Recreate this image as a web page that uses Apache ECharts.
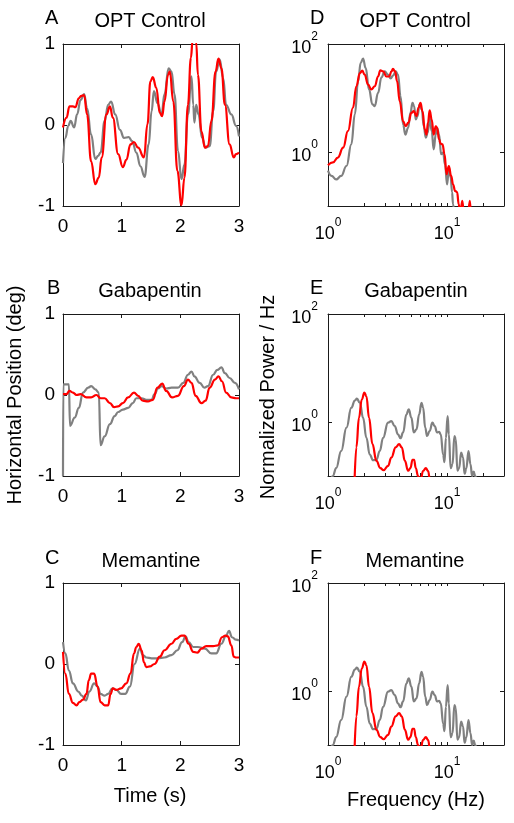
<!DOCTYPE html>
<html>
<head>
<meta charset="utf-8">
<script src="https://cdn.jsdelivr.net/npm/echarts@6/dist/echarts.min.js"></script>
<style>html,body{margin:0;padding:0;background:#fff;}#c{width:514px;height:823px;}</style>
</head>
<body>
<div id="c"></div>
<script>
// ---------- Data ----------
const panelLetters = ['A', 'B', 'C', 'D', 'E', 'F'];
const panelTitles = ['OPT Control', 'Gabapentin', 'Memantine', 'OPT Control', 'Gabapentin', 'Memantine'];
const timeTicks = [0, 1, 2, 3];
const posTicks = [-1, 0, 1];
const freqLabelTicks = [1, 10];
const freqMinorTicks = [1, 2, 3, 4, 5, 6, 7, 8, 9, 10, 20];
const powerTicks = [1, 100];

// Panel A: OPT Control, horizontal position (deg) vs time (s)
const optRed = [[0,-0.03],[0.06,0.09],[0.11,0.23],[0.17,0.23],[0.21,0.22],[0.27,0.33],[0.31,0.36],[0.36,0.37],[0.41,0.13],[0.48,-0.45],[0.55,-0.73],[0.61,-0.65],[0.66,-0.40],[0.74,0.13],[0.80,0.23],[0.85,0.09],[0.94,-0.36],[1.02,-0.52],[1.08,-0.43],[1.15,-0.24],[1.21,-0.21],[1.28,-0.28],[1.38,-0.40],[1.44,0.01],[1.49,0.54],[1.53,0.59],[1.59,0.46],[1.65,0.15],[1.69,0.11],[1.73,0.29],[1.79,0.62],[1.82,0.66],[1.88,0.29],[1.95,-0.57],[2.02,-0.99],[2.07,-0.65],[2.13,0.25],[2.18,0.83],[2.21,1.05],[2.24,1.1],[2.27,1.02],[2.30,0.62],[2.36,-0.08],[2.42,-0.28],[2.47,-0.26],[2.53,0.05],[2.60,0.66],[2.65,0.82],[2.70,0.70],[2.76,0.25],[2.84,-0.24],[2.91,-0.40],[2.95,-0.36],[3.0,-0.34]];
const optGray = [[0,-0.47],[0.04,-0.16],[0.09,-0.01],[0.13,0.05],[0.19,-0.03],[0.24,0.13],[0.30,0.31],[0.36,0.38],[0.41,0.21],[0.48,-0.12],[0.55,-0.42],[0.60,-0.38],[0.64,-0.34],[0.71,0.05],[0.77,0.25],[0.82,0.29],[0.89,0.13],[0.97,-0.06],[1.04,-0.16],[1.12,-0.15],[1.18,-0.20],[1.25,-0.34],[1.32,-0.51],[1.39,-0.64],[1.46,-0.24],[1.51,0.17],[1.55,0.42],[1.61,0.27],[1.68,0.13],[1.73,0.38],[1.80,0.70],[1.85,0.66],[1.90,0.38],[1.96,-0.32],[2.02,-0.67],[2.07,-0.49],[2.13,0.13],[2.19,0.60],[2.22,0.25],[2.24,0.03],[2.27,0.25],[2.31,0.13],[2.37,-0.16],[2.43,-0.28],[2.50,-0.26],[2.56,0.17],[2.61,0.66],[2.67,0.81],[2.73,0.58],[2.78,0.25],[2.87,0.13],[2.95,-0.01],[3.0,-0.14]];

// Panel B: Gabapentin
const gabaRed = [[0,0.01],[0.06,0.01],[0.11,0.05],[0.17,0.03],[0.23,0.0],[0.30,0.01],[0.40,-0.03],[0.48,-0.03],[0.57,0.0],[0.64,-0.04],[0.71,-0.04],[0.80,-0.10],[0.87,-0.15],[0.94,-0.14],[1.02,-0.10],[1.11,-0.03],[1.21,0.03],[1.28,-0.01],[1.36,-0.07],[1.45,-0.08],[1.53,-0.06],[1.61,0.09],[1.69,0.14],[1.76,0.05],[1.86,-0.03],[1.96,-0.01],[2.06,0.11],[2.13,0.19],[2.19,0.15],[2.26,-0.01],[2.36,-0.10],[2.43,-0.07],[2.50,0.09],[2.59,0.19],[2.65,0.23],[2.71,0.17],[2.78,0.03],[2.87,-0.03],[2.95,-0.04],[3.0,-0.04]];
const gabaGray = [[0,-1],[0.005,0.13],[0.10,0.13],[0.12,-0.38],[0.20,-0.28],[0.27,-0.16],[0.34,0.03],[0.43,0.09],[0.48,0.11],[0.55,0.07],[0.61,0.03],[0.64,-0.62],[0.71,-0.51],[0.80,-0.36],[0.88,-0.26],[0.94,-0.21],[1.02,-0.18],[1.11,-0.16],[1.19,-0.10],[1.25,-0.04],[1.34,-0.04],[1.42,-0.06],[1.51,-0.06],[1.56,0.01],[1.62,0.08],[1.68,0.11],[1.76,0.08],[1.85,0.09],[1.96,0.09],[2.05,0.15],[2.13,0.25],[2.19,0.29],[2.24,0.23],[2.33,0.15],[2.41,0.09],[2.47,0.11],[2.56,0.25],[2.63,0.31],[2.70,0.34],[2.76,0.27],[2.84,0.21],[2.93,0.15],[3.0,0.07]];

// Panel C: Memantine
const memRed = [[0,0.15],[0.04,-0.12],[0.10,-0.37],[0.17,-0.48],[0.23,-0.51],[0.28,-0.47],[0.34,-0.44],[0.40,-0.37],[0.44,-0.20],[0.48,-0.12],[0.53,-0.12],[0.59,-0.28],[0.64,-0.47],[0.71,-0.51],[0.77,-0.51],[0.81,-0.37],[0.85,-0.30],[0.91,-0.32],[0.99,-0.30],[1.08,-0.24],[1.15,-0.12],[1.21,0.13],[1.25,0.21],[1.29,0.25],[1.34,0.17],[1.38,0.02],[1.42,-0.04],[1.48,-0.03],[1.56,0.0],[1.65,0.09],[1.73,0.17],[1.85,0.25],[1.93,0.31],[2.02,0.35],[2.07,0.35],[2.14,0.25],[2.22,0.15],[2.29,0.14],[2.36,0.19],[2.44,0.22],[2.56,0.22],[2.64,0.23],[2.71,0.33],[2.77,0.35],[2.81,0.34],[2.87,0.23],[2.91,0.09],[2.95,0.08],[3.0,0.08]];
const memGray = [[0,0.27],[0.04,0.13],[0.10,-0.08],[0.17,-0.24],[0.26,-0.34],[0.32,-0.39],[0.39,-0.45],[0.45,-0.34],[0.53,-0.24],[0.59,-0.28],[0.64,-0.37],[0.71,-0.39],[0.77,-0.37],[0.84,-0.30],[0.91,-0.32],[0.99,-0.37],[1.06,-0.37],[1.14,-0.28],[1.22,0.0],[1.31,0.19],[1.36,0.11],[1.42,0.08],[1.51,0.07],[1.62,0.07],[1.73,0.08],[1.85,0.11],[1.95,0.17],[2.03,0.27],[2.09,0.34],[2.14,0.27],[2.22,0.21],[2.30,0.21],[2.42,0.19],[2.53,0.13],[2.61,0.13],[2.70,0.25],[2.78,0.35],[2.83,0.41],[2.88,0.33],[2.95,0.30],[3.0,0.29]];

// Panel D: OPT Control, normalized power / Hz vs frequency (Hz)
const optSpecRed = [[1,0.57],[1.10,0.64],[1.21,0.79],[1.34,1.2],[1.47,2.44],[1.62,6.6],[1.73,16.5],[1.85,29],[1.94,32],[2.03,27],[2.17,17.7],[2.31,14.4],[2.47,16.5],[2.63,25],[2.75,32.6],[2.90,31],[3.09,25],[3.26,25],[3.41,31],[3.51,34.5],[3.66,31],[3.80,20.5],[4.00,8.7],[4.27,3.7],[4.49,3.0],[4.73,3.5],[5.01,5.3],[5.25,5.7],[5.53,4.6],[5.75,6.6],[5.97,8.1],[6.21,5.7],[6.49,2.6],[6.70,2.1],[6.91,3.5],[7.13,5.9],[7.42,4.0],[7.71,2.1],[8.02,3.0],[8.23,2.8],[8.56,1.71],[8.80,1.43],[9.14,1.39],[9.50,0.91],[9.88,0.39],[10.33,0.55],[10.80,0.36],[11.22,0.25],[11.66,0.19],[12.12,0.18],[12.5,0.108],[12.9,0.07],[13.4,0.125],[13.9,0.06],[14.8,0.05],[15.5,0.125],[16.0,0.05],[18,0.03]];
const optSpecGray = [[1,0.45],[1.07,0.36],[1.17,0.31],[1.29,0.36],[1.43,0.55],[1.57,1.39],[1.68,5.0],[1.79,20.4],[1.88,44.6],[1.97,53.6],[2.07,36],[2.21,14.4],[2.36,7.6],[2.47,7.1],[2.63,12.5],[2.81,24.2],[2.99,31],[3.19,27],[3.36,23],[3.51,26],[3.70,31],[3.87,27],[4.06,10.8],[4.27,3.2],[4.46,2.1],[4.70,2.8],[4.92,5.3],[5.12,8.1],[5.28,7.1],[5.45,4.0],[5.63,4.6],[5.88,7.6],[6.13,6.1],[6.36,3.0],[6.62,1.84],[6.87,2.27],[7.13,4.3],[7.42,2.44],[7.71,1.12],[8.02,2.1],[8.23,2.8],[8.56,2.1],[8.9,0.91],[9.25,0.97],[9.6,0.59],[9.99,0.25],[10.33,0.51],[10.7,0.34],[11.0,0.18],[11.2,0.108],[11.6,0.06],[13,0.03]];

// Panel E: Gabapentin spectra
const gabaSpecRed = [[1.66,0.05],[1.73,0.34],[1.82,1.2],[1.92,2.6],[2.02,3.5],[2.10,3.0],[2.21,1.2],[2.36,0.39],[2.55,0.19],[2.75,0.14],[2.93,0.128],[3.19,0.154],[3.40,0.22],[3.70,0.34],[3.95,0.39],[4.16,0.34],[4.42,0.19],[4.70,0.125],[4.92,0.14],[5.12,0.2],[5.28,0.2],[5.45,0.14],[5.7,0.1],[5.95,0.08],[6.29,0.125],[6.62,0.14],[6.91,0.125],[7.2,0.08],[7.6,0.05]];
const gabaSpecGray = [[1.0,0.06],[1.10,0.1],[1.17,0.14],[1.29,0.29],[1.43,0.79],[1.57,1.84],[1.68,2.5],[1.75,2.7],[1.85,2.27],[1.97,1.2],[2.10,0.51],[2.24,0.25],[2.39,0.196],[2.55,0.2],[2.72,0.29],[2.90,0.51],[3.19,0.97],[3.40,1.04],[3.63,0.84],[3.87,0.59],[4.06,0.5],[4.27,0.64],[4.55,1.39],[4.76,1.71],[5.01,1.2],[5.25,0.64],[5.53,0.73],[5.82,1.39],[6.09,2.27],[6.29,1.84],[6.54,0.79],[6.79,0.55],[7.13,0.68],[7.52,0.97],[7.86,0.84],[8.23,0.64],[8.56,0.66],[8.84,0.59],[9.25,0.25],[9.5,0.18],[9.76,0.51],[10.1,1.29],[10.33,0.59],[10.7,0.14],[11.1,0.165],[11.5,0.55],[11.8,0.48],[12.2,0.125],[12.6,0.14],[13.1,0.27],[13.6,0.22],[14.0,0.11],[14.5,0.14],[15.1,0.29],[15.7,0.165],[16.2,0.1],[16.7,0.12],[17.2,0.1],[17.9,0.08],[19,0.05]];

// Panel F: Memantine spectra (identical in the reference to panel E)
const memSpecRed = [[1.66,0.05],[1.73,0.34],[1.82,1.2],[1.92,2.6],[2.02,3.5],[2.10,3.0],[2.21,1.2],[2.36,0.39],[2.55,0.19],[2.75,0.14],[2.93,0.128],[3.19,0.154],[3.40,0.22],[3.70,0.34],[3.95,0.39],[4.16,0.34],[4.42,0.19],[4.70,0.125],[4.92,0.14],[5.12,0.2],[5.28,0.2],[5.45,0.14],[5.7,0.1],[5.95,0.08],[6.29,0.125],[6.62,0.14],[6.91,0.125],[7.2,0.08],[7.6,0.05]];
const memSpecGray = [[1.0,0.06],[1.10,0.1],[1.17,0.14],[1.29,0.29],[1.43,0.79],[1.57,1.84],[1.68,2.5],[1.75,2.7],[1.85,2.27],[1.97,1.2],[2.10,0.51],[2.24,0.25],[2.39,0.196],[2.55,0.2],[2.72,0.29],[2.90,0.51],[3.19,0.97],[3.40,1.04],[3.63,0.84],[3.87,0.59],[4.06,0.5],[4.27,0.64],[4.55,1.39],[4.76,1.71],[5.01,1.2],[5.25,0.64],[5.53,0.73],[5.82,1.39],[6.09,2.27],[6.29,1.84],[6.54,0.79],[6.79,0.55],[7.13,0.68],[7.52,0.97],[7.86,0.84],[8.23,0.64],[8.56,0.66],[8.84,0.59],[9.25,0.25],[9.5,0.18],[9.76,0.51],[10.1,1.29],[10.33,0.59],[10.7,0.14],[11.1,0.165],[11.5,0.55],[11.8,0.48],[12.2,0.125],[12.6,0.14],[13.1,0.27],[13.6,0.22],[14.0,0.11],[14.5,0.14],[15.1,0.29],[15.7,0.165],[16.2,0.1],[16.7,0.12],[17.2,0.1],[17.9,0.08],[19,0.05]];

const panelSeries = [
  [optGray, optRed], [gabaGray, gabaRed], [memGray, memRed],
  [optSpecGray, optSpecRed], [gabaSpecGray, gabaSpecRed], [memSpecGray, memSpecRed]
];

// ---------- Layout / style ----------
const FONT = "'Liberation Sans', Arial, Helvetica, sans-serif";
const RED = '#ff0000', GRAY = '#808080', AXIS = '#1a1a1a';
const gridBoxes = [
  {left: 63, top: 44}, {left: 63, top: 314}, {left: 63, top: 583},
  {left: 328, top: 44}, {left: 328, top: 314}, {left: 328, top: 583}
];
const GW = 176, GH = 162;

function pow10Label(v) {
  const l = Math.log10(v), e = Math.round(l);
  if (Math.abs(l - e) > 1e-6) return '';
  return '{b|10}{s|' + e + '}';
}
const powRich = {
  b: {fontSize: 18, fontFamily: FONT, color: '#000', lineHeight: 26, verticalAlign: 'bottom'},
  s: {fontSize: 12, fontFamily: FONT, color: '#000', lineHeight: 12, verticalAlign: 'top'}
};

const grid = [], xAxis = [], yAxis = [], series = [];
gridBoxes.forEach((g, i) => {
  grid.push({left: g.left, top: g.top, width: GW, height: GH, containLabel: false, outerBoundsMode: 'none', show: false});
  const isLog = i >= 3;
  const line = {show: true, onZero: false, lineStyle: {color: AXIS, width: 1}};
  const tick = {show: true, inside: true, length: 4, lineStyle: {color: AXIS, width: 1}};
  if (!isLog) {
    const xb = {gridIndex: i, type: 'value', min: 0, max: 3, interval: 1, axisLine: line, splitLine: {show: false}};
    xAxis.push(Object.assign({}, xb, {position: 'bottom', axisTick: tick,
      axisLabel: {show: true, fontSize: 19, fontFamily: FONT, color: '#000', margin: 11}}));
    xAxis.push(Object.assign({}, xb, {position: 'top', axisTick: tick, axisLabel: {show: false}}));
    const yb = {gridIndex: i, type: 'value', min: -1, max: 1, interval: 1, axisLine: line, splitLine: {show: false}};
    yAxis.push(Object.assign({}, yb, {position: 'left', axisTick: tick,
      axisLabel: {show: true, fontSize: 19, fontFamily: FONT, color: '#000', margin: 8}}));
    yAxis.push(Object.assign({}, yb, {position: 'right', axisTick: tick, axisLabel: {show: false}}));
  } else {
    const xt = Object.assign({}, tick, {customValues: freqMinorTicks, length: 3});
    const xb = {gridIndex: i, type: 'log', logBase: 10, min: 1, max: 30, axisLine: line, splitLine: {show: false}, minorTick: {show: false}};
    xAxis.push(Object.assign({}, xb, {position: 'bottom', axisTick: xt,
      axisLabel: {show: true, customValues: freqLabelTicks, formatter: pow10Label, rich: powRich, margin: 11}}));
    xAxis.push(Object.assign({}, xb, {position: 'top', axisTick: xt, axisLabel: {show: false}}));
    const yt = Object.assign({}, tick, {customValues: powerTicks});
    const yb = {gridIndex: i, type: 'log', logBase: 10, min: 0.1, max: 100, axisLine: line, splitLine: {show: false}};
    yAxis.push(Object.assign({}, yb, {position: 'left', axisTick: yt,
      axisLabel: {show: true, customValues: powerTicks, formatter: pow10Label, rich: powRich, margin: 10}}));
    yAxis.push(Object.assign({}, yb, {position: 'right', axisTick: yt, axisLabel: {show: false}}));
  }
  const [grayData, redData] = panelSeries[i];
  const base = {type: 'line', xAxisIndex: 2 * i, yAxisIndex: 2 * i, showSymbol: false, symbol: 'none',
    smooth: 0.45, smoothMonotone: 'x', clip: true, silent: true};
  series.push(Object.assign({}, base, {data: grayData, lineStyle: {color: GRAY, width: 2.2}, z: 2}));
  series.push(Object.assign({}, base, {data: redData, lineStyle: {color: RED, width: 2.2}, z: 3}));
});

// Text labels
const textStyle = (txt, size, align) => ({text: txt, font: size + 'px ' + FONT, fill: '#000', align: align || 'center', verticalAlign: 'middle'});
const letterPos = [[45, 18], [47, 288], [45, 558], [310, 18], [310, 288], [310, 558]];
const titlePos = [[150, 21], [150, 291], [151, 561], [415, 21], [416, 291], [415, 561]];
const graphic = [];
panelLetters.forEach((L, i) => graphic.push({type: 'text', x: letterPos[i][0], y: letterPos[i][1], style: textStyle(L, 20, 'left')}));
panelTitles.forEach((t, i) => graphic.push({type: 'text', x: titlePos[i][0], y: titlePos[i][1], style: textStyle(t, 20)}));
graphic.push({type: 'text', x: 15, y: 395, rotation: Math.PI / 2, style: textStyle('Horizontal Position (deg)', 20)});
graphic.push({type: 'text', x: 268, y: 397, rotation: Math.PI / 2, style: textStyle('Normalized Power / Hz', 20)});
graphic.push({type: 'text', x: 150, y: 796, style: textStyle('Time (s)', 20)});
graphic.push({type: 'text', x: 416, y: 800, style: textStyle('Frequency (Hz)', 20)});

const chart = echarts.init(document.getElementById('c'), null, {renderer: 'canvas'});
chart.setOption({
  backgroundColor: '#ffffff',
  animation: false,
  textStyle: {fontFamily: FONT},
  grid, xAxis, yAxis, series, graphic
});
</script>
</body>
</html>
